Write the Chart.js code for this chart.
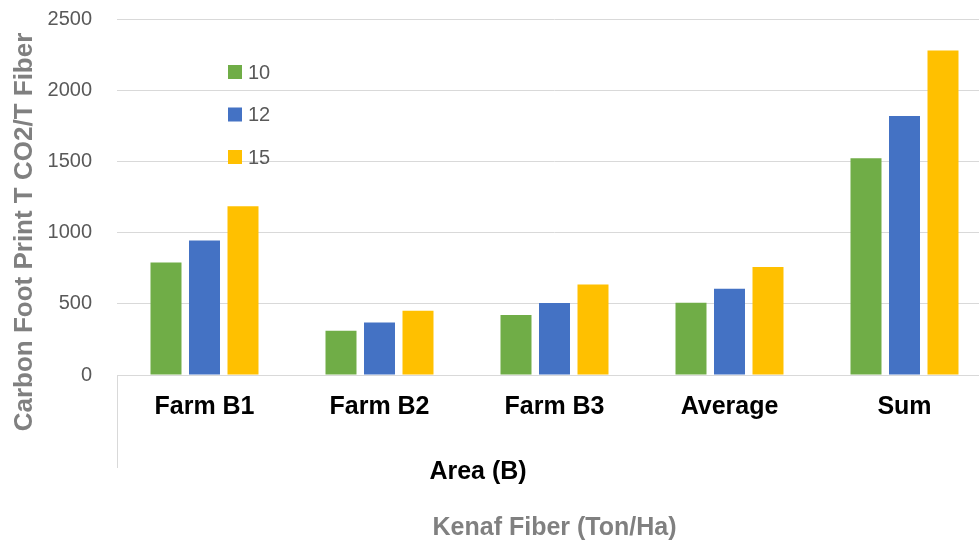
<!DOCTYPE html>
<html>
<head>
<meta charset="utf-8">
<script src="https://cdn.jsdelivr.net/npm/chart.js@4"></script>
<style>
  html, body { margin: 0; padding: 0; background: #fff; overflow: hidden; }
  #wrap { width: 992px; height: 545px; }
</style>
</head>
<body>
<div id="wrap"><canvas id="chart" width="992" height="545"></canvas></div>
<script>
// Categories and series
const areas = ['Farm B1', 'Farm B2', 'Farm B3', 'Average', 'Sum'];
const seriesNames = ['10', '12', '15'];
const fiber10 = [790, 310, 422, 507, 1522];
const fiber12 = [945, 368, 505, 606, 1818];
const fiber15 = [1185, 452, 635, 758, 2278];
const yTicks = [0, 500, 1000, 1500, 2000, 2500];

const colors = ['#70ad47', '#4472c4', '#ffc000'];
const grey = '#808080';
const gridColor = '#d9d9d9';

// extra bits Excel draws: rotated y title, outer "Area (B)" label, left divider, inset legend
const decorations = {
  id: 'decorations',
  afterDraw(chart) {
    const { ctx, chartArea } = chart;
    ctx.save();

    // y title
    ctx.translate(25, 232);
    ctx.rotate(-Math.PI / 2);
    ctx.font = 'bold 26px "Liberation Sans", Arial, sans-serif';
    ctx.fillStyle = grey;
    ctx.textAlign = 'center';
    ctx.textBaseline = 'middle';
    ctx.fillText('Carbon Foot Print T CO2/T Fiber', 0, 0);
    ctx.setTransform(1, 0, 0, 1, 0, 0);

    // divider under the axis
    ctx.strokeStyle = gridColor;
    ctx.lineWidth = 1;
    ctx.beginPath();
    ctx.moveTo(chartArea.left + 0.5, chartArea.bottom);
    ctx.lineTo(chartArea.left + 0.5, chartArea.bottom + 93);
    ctx.stroke();

    // outer category label
    ctx.font = 'bold 25px "Liberation Sans", Arial, sans-serif';
    ctx.fillStyle = '#000';
    ctx.textAlign = 'center';
    ctx.fillText('Area (B)', chartArea.left + 361, chartArea.bottom + 97);

    // legend
    ctx.font = '20px "Liberation Sans", Arial, sans-serif';
    ctx.textAlign = 'left';
    chart.data.datasets.forEach((ds, i) => {
      const y = 72 + i * 42.5;
      ctx.fillStyle = ds.backgroundColor;
      ctx.fillRect(chartArea.left + 111, y - 7, 14, 14);
      ctx.fillStyle = '#595959';
      ctx.fillText(ds.label, chartArea.left + 131, y + 1);
    });
    ctx.restore();
  }
};

const ctx = document.getElementById('chart').getContext('2d');
new Chart(ctx, {
  type: 'bar',
  data: {
    labels: areas,
    datasets: [
      { label: seriesNames[0], data: fiber10, backgroundColor: colors[0] },
      { label: seriesNames[1], data: fiber12, backgroundColor: colors[1] },
      { label: seriesNames[2], data: fiber15, backgroundColor: colors[2] },
    ]
  },
  options: {
    responsive: false,
    animation: false,
    datasets: { bar: { categoryPercentage: 0.66, barPercentage: 0.805 } },
    layout: { padding: 0 },
    plugins: { legend: { display: false }, tooltip: { enabled: false } },
    scales: {
      x: {
        grid: { display: false },
        border: { display: true, color: gridColor },
        ticks: {
          color: '#000',
          padding: 9,
          maxRotation: 0,
          font: { family: '"Liberation Sans", Arial, sans-serif', size: 25, weight: 'bold' }
        },
        title: {
          display: true,
          text: 'Kenaf Fiber (Ton/Ha)',
          color: grey,
          padding: { top: 0, bottom: 2 },
          font: { family: '"Liberation Sans", Arial, sans-serif', size: 25, weight: 'bold' }
        },
        afterFit(scale) {
          scale.height = 170;
          scale.paddingTop = 0;
          scale.paddingBottom = 0;
          scale.paddingLeft = 0;
          scale.paddingRight = 0;
        }
      },
      y: {
        min: yTicks[0],
        max: yTicks[yTicks.length - 1],
        afterBuildTicks(scale) { scale.ticks = yTicks.map(v => ({ value: v })); },
        grid: { color: gridColor, drawTicks: false },
        border: { display: false },
        ticks: {
          color: '#595959',
          padding: 25,
          callback: v => String(v),
          font: { family: '"Liberation Sans", Arial, sans-serif', size: 20 }
        },
        afterFit(scale) {
          scale.width = 117;
          scale.paddingTop = 19;
          scale.paddingBottom = 0;
        }
      }
    }
  },
  plugins: [decorations]
});
</script>
</body>
</html>
